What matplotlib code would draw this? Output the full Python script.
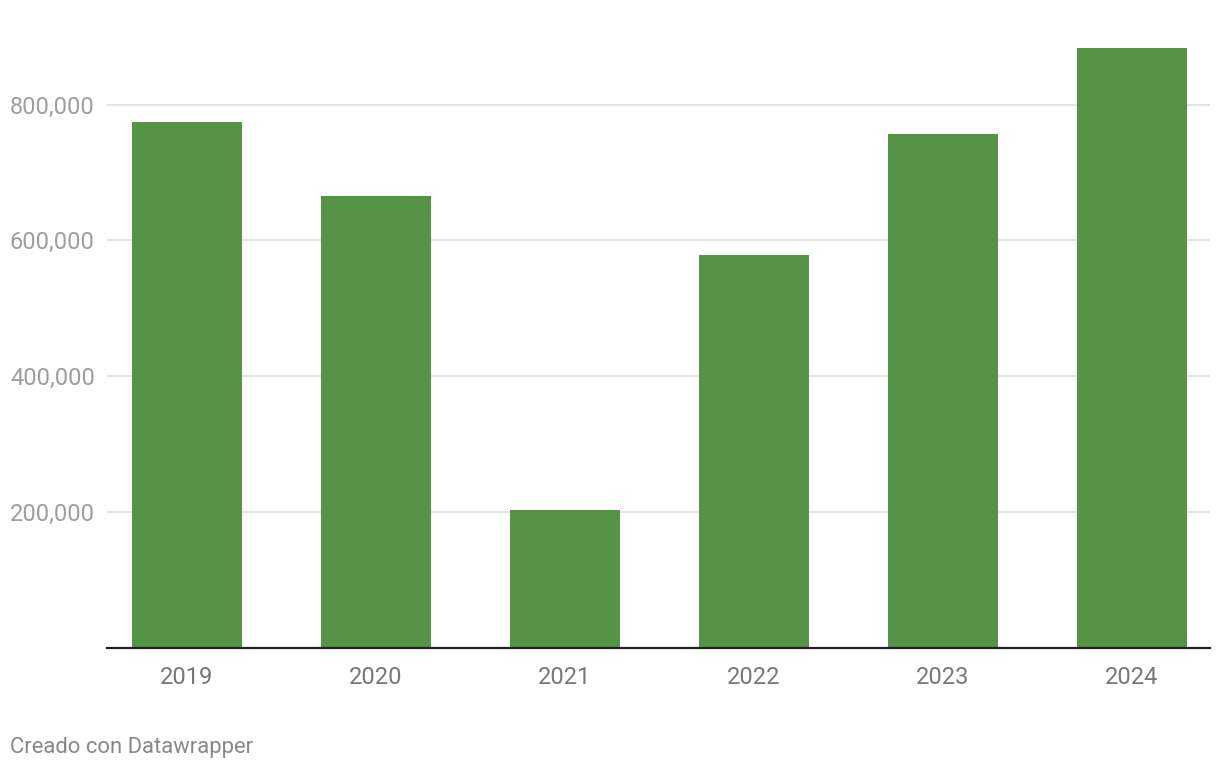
import numpy as np
import matplotlib
matplotlib.use("Agg")
import matplotlib.pyplot as plt
from matplotlib.ticker import FuncFormatter

years = ["2019", "2020", "2021", "2022", "2023", "2024"]
values = [774000, 665000, 203000, 578000, 756000, 883000]
yticks = [200000, 400000, 600000, 800000]

plt.rcParams['font.family'] = ['Roboto', 'DejaVu Sans']

W, H = 1220, 770
fig = plt.figure(figsize=(W/100, H/100), dpi=100)
ymax = 900000
bottom_px = 647.5
top_px = bottom_px - ymax * 543/800000
ax = fig.add_axes([107/W, 1 - bottom_px/H, (1210-107)/W, (bottom_px-top_px)/H])

x = np.arange(len(years))
ax.bar(x, values, width=0.58, color='#559446', zorder=3)

ax.set_xlim(-0.423, 5.413)
ax.set_ylim(0, ymax)
ax.set_yticks(yticks)
ax.grid(axis='y', color='#e3e3e3', lw=1.5, zorder=0)
ax.set_xticks(x)
ax.set_xticklabels(years)

for s in ['top', 'right', 'left']:
    ax.spines[s].set_visible(False)
ax.spines['bottom'].set_color('#222222')
ax.spines['bottom'].set_linewidth(1.6)
ax.spines['bottom'].set_zorder(4)

ax.tick_params(axis='x', length=0, pad=13, labelsize=17, labelcolor='#777777')
ax.tick_params(axis='y', length=0, labelsize=17, labelcolor='#9e9e9e')
ax.yaxis.set_major_formatter(FuncFormatter(lambda v, p: f"{int(v):,}"))
for lbl in ax.get_yticklabels():
    lbl.set_horizontalalignment('left')
# left-aligned labels: pad in points from axis edge (97px) to text start (x=10)
ax.tick_params(axis='y', pad=97 * 0.72)

fig.text(10/W, 1 - 748/H, "Creado con Datawrapper", fontsize=15.8,
         color='#888888', ha='left', va='center')

fig.savefig("out.png", dpi=100)
